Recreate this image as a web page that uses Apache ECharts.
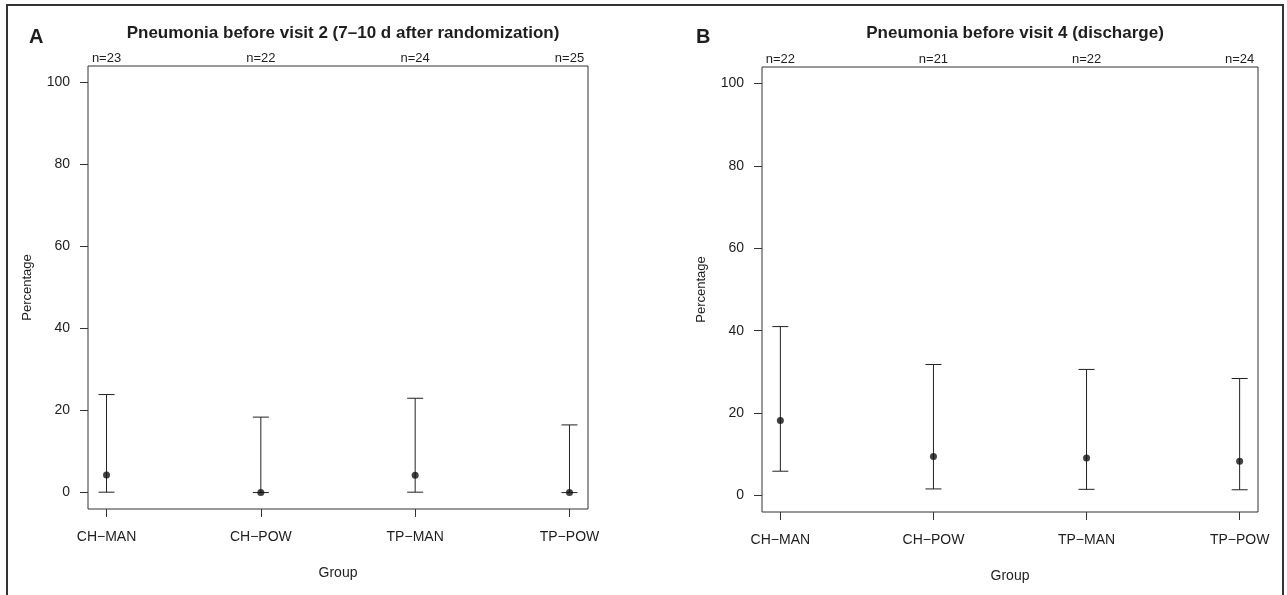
<!DOCTYPE html>
<html>
<head>
<meta charset="utf-8">
<script src="https://cdn.jsdelivr.net/npm/echarts@6/dist/echarts.min.js"></script>
<style>
html,body{margin:0;padding:0;background:#fff;}
#chart{width:1287px;height:595px;}
</style>
</head>
<body>
<div id="chart"></div>
<script>
// ---- data ----
const groups = ['CH\u2212MAN', 'CH\u2212POW', 'TP\u2212MAN', 'TP\u2212POW'];
const groupPos = [1, 2, 3, 4];
const yTicks = [0, 20, 40, 60, 80, 100];

const titleA = 'Pneumonia before visit 2 (7\u201310 d after randomization)';
const nA = ['n=23', 'n=22', 'n=24', 'n=25'];
const estA = [4.3, 0, 4.2, 0];
const lowA = [0.1, 0, 0.1, 0];
const upA = [23.9, 18.4, 23.0, 16.5];

const titleB = 'Pneumonia before visit 4 (discharge)';
const nB = ['n=22', 'n=21', 'n=22', 'n=24'];
const estB = [18.2, 9.5, 9.1, 8.3];
const lowB = [5.9, 1.6, 1.5, 1.4];
const upB = [41.0, 31.8, 30.6, 28.4];

// ---- chart ----
const FONT = 'Liberation Sans, Arial, sans-serif';
const TXT = '#1e1e1e';
const LINE = '#333';

function xBottom(gridIndex) {
  return {
    type: 'value', gridIndex: gridIndex, position: 'bottom',
    min: 0.88, max: 4.12,
    axisLine: { show: false, onZero: false },
    axisTick: { show: true, customValues: groupPos, length: 8, lineStyle: { color: LINE, width: 1 } },
    axisLabel: {
      customValues: groupPos, margin: 21, fontSize: 14, color: TXT, fontFamily: FONT,
      formatter: v => groups[groupPos.indexOf(Math.round(v))] || ''
    },
    splitLine: { show: false },
    name: 'Group', nameLocation: 'middle', nameGap: 57,
    nameTextStyle: { fontSize: 14, color: TXT, fontFamily: FONT }
  };
}
function xTop(gridIndex, labels) {
  return {
    type: 'value', gridIndex: gridIndex, position: 'top',
    min: 0.88, max: 4.12,
    axisLine: { show: false, onZero: false },
    axisTick: { show: false },
    axisLabel: {
      customValues: groupPos, margin: 1, fontSize: 13, color: TXT, fontFamily: FONT,
      formatter: v => labels[groupPos.indexOf(Math.round(v))] || ''
    },
    splitLine: { show: false }
  };
}
function yAx(gridIndex) {
  return {
    type: 'value', gridIndex: gridIndex, min: -4, max: 104,
    axisLine: { show: false, onZero: false },
    axisTick: { show: true, customValues: yTicks, length: 8, lineStyle: { color: LINE, width: 1 } },
    axisLabel: { customValues: yTicks, margin: 18, fontSize: 14, color: TXT, fontFamily: FONT },
    splitLine: { show: false },
    name: 'Percentage', nameLocation: 'middle', nameGap: 54, nameRotate: 90,
    nameTextStyle: { fontSize: 13, color: TXT, fontFamily: FONT }
  };
}

function errSeries(idx, low, up) {
  const data = groupPos.map((x, i) => [x, low[i], up[i]]);
  return {
    type: 'custom', xAxisIndex: idx, yAxisIndex: idx, data: data, z: 3,
    renderItem: function (params, api) {
      const x = api.value(0);
      const p1 = api.coord([x, api.value(1)]);
      const p2 = api.coord([x, api.value(2)]);
      const hw = 8;
      const st = { stroke: '#222', lineWidth: 1 };
      return {
        type: 'group',
        children: [
          { type: 'line', shape: { x1: p1[0], y1: p1[1], x2: p2[0], y2: p2[1] }, style: st },
          { type: 'line', shape: { x1: p1[0] - hw, y1: p1[1], x2: p1[0] + hw, y2: p1[1] }, style: st },
          { type: 'line', shape: { x1: p2[0] - hw, y1: p2[1], x2: p2[0] + hw, y2: p2[1] }, style: st }
        ]
      };
    }
  };
}
function ptSeries(idx, est) {
  return {
    type: 'scatter', xAxisIndex: idx, yAxisIndex: idx, z: 4,
    symbol: 'circle', symbolSize: 7,
    itemStyle: { color: '#111' },
    data: groupPos.map((x, i) => [x, est[i]])
  };
}

const chart = echarts.init(document.getElementById('chart'), null, { renderer: 'canvas' });
chart.setOption({
  animation: false,
  backgroundColor: '#fff',
  textStyle: { fontFamily: FONT },
  title: [
    { text: titleA, left: 338, top: 20, textAlign: 'center',
      textStyle: { fontSize: 17, fontWeight: 'bold', color: TXT, fontFamily: FONT } },
    { text: titleB, left: 1010, top: 20, textAlign: 'center',
      textStyle: { fontSize: 17, fontWeight: 'bold', color: TXT, fontFamily: FONT } },
    { text: 'A', left: 24, top: 22, textStyle: { fontSize: 20, fontWeight: 'bold', color: TXT, fontFamily: FONT } },
    { text: 'B', left: 691, top: 22, textStyle: { fontSize: 20, fontWeight: 'bold', color: TXT, fontFamily: FONT } }
  ],
  grid: [
    { left: 88, top: 66, width: 500, height: 443, show: true, borderColor: LINE, borderWidth: 1, backgroundColor: 'transparent' },
    { left: 762, top: 67, width: 496, height: 445, show: true, borderColor: LINE, borderWidth: 1, backgroundColor: 'transparent' }
  ],
  xAxis: [xBottom(0), xBottom(1), xTop(0, nA), xTop(1, nB)],
  yAxis: [yAx(0), yAx(1)],
  graphic: [
    { type: 'rect', shape: { x: 7, y: 5, width: 1276, height: 600 },
      style: { fill: 'none', stroke: '#333', lineWidth: 2 }, silent: true, z: 10 }
  ],
  series: [
    errSeries(0, lowA, upA), ptSeries(0, estA),
    errSeries(1, lowB, upB), ptSeries(1, estB)
  ]
});
</script>
</body>
</html>
